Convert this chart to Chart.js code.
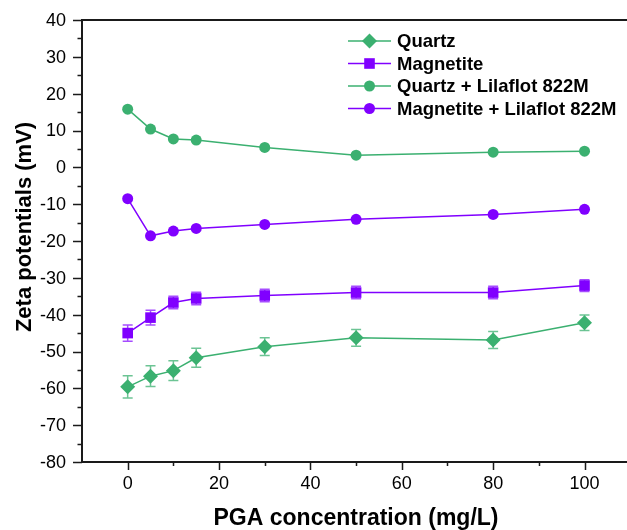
<!DOCTYPE html>
<html>
<head>
<meta charset="utf-8">
<script src="https://cdn.jsdelivr.net/npm/chart.js@4.4.0/dist/chart.umd.min.js"></script>
<style>
  html, body { margin: 0; padding: 0; background: #fff; overflow: hidden; }
  canvas { display: block; }
</style>
</head>
<body>
<canvas id="myChart" width="627" height="530"></canvas>
<script>
// Zeta potential vs PGA concentration

const concentrations = [0, 5, 10, 15, 30, 50, 80, 100];

const quartz = [-59.6, -56.7, -55.2, -51.7, -48.7, -46.3, -46.9, -42.2];
const quartzErr = [3.0, 2.8, 2.7, 2.6, 2.4, 2.3, 2.3, 2.1];

const magnetite = [-45.0, -40.8, -36.7, -35.6, -34.8, -34.0, -34.0, -32.1];
const magnetiteErr = [2.2, 2.0, 1.7, 1.7, 1.7, 1.7, 1.7, 1.6];

const quartzLilaflot = [15.8, 10.4, 7.7, 7.4, 5.4, 3.3, 4.1, 4.4];
const magnetiteLilaflot = [-8.5, -18.6, -17.3, -16.6, -15.5, -14.1, -12.8, -11.4];

const seriesNames = ["Quartz", "Magnetite", "Quartz + Lilaflot 822M", "Magnetite + Lilaflot 822M"];

const xTicks = [0, 20, 40, 60, 80, 100];
const yTicks = [-80, -70, -60, -50, -40, -30, -20, -10, 0, 10, 20, 30, 40];

const green = "#3bb070";
const purple = "#8000ff";
const fontFamily = "'Liberation Sans', Arial, sans-serif";

const toPoints = (ys) => ys.map((y, i) => ({ x: concentrations[i], y: y }));

// error bars, axes, tick labels, legend
const extras = {
  id: "extras",
  beforeDatasetsDraw(chart) {
    const ctx = chart.ctx;
    const xs = chart.scales.x;
    const ys = chart.scales.y;
    chart.data.datasets.forEach((ds) => {
      if (!ds.errors) return;
      ctx.save();
      ctx.strokeStyle = ds.errColor;
      ctx.lineWidth = 1.5;
      ds.data.forEach((p, i) => {
        const px = xs.getPixelForValue(p.x);
        const top = ys.getPixelForValue(p.y + ds.errors[i]);
        const bot = ys.getPixelForValue(p.y - ds.errors[i]);
        ctx.beginPath();
        ctx.moveTo(px, top);
        ctx.lineTo(px, bot);
        ctx.moveTo(px - 5, top);
        ctx.lineTo(px + 5, top);
        ctx.moveTo(px - 5, bot);
        ctx.lineTo(px + 5, bot);
        ctx.stroke();
      });
      ctx.restore();
    });
  },
  afterDraw(chart) {
    const ctx = chart.ctx;
    const area = chart.chartArea;
    const xs = chart.scales.x;
    const ys = chart.scales.y;
    ctx.save();
    ctx.strokeStyle = "#1a1a1a";
    ctx.lineWidth = 2;
    ctx.beginPath();
    ctx.moveTo(area.right, area.top);
    ctx.lineTo(area.left, area.top);
    ctx.lineTo(area.left, area.bottom);
    ctx.lineTo(area.right, area.bottom);
    ctx.stroke();

    // major + minor tick marks
    ctx.lineWidth = 1.5;
    ctx.beginPath();
    for (let v = -80; v <= 40; v += 5) {
      const py = Math.round(ys.getPixelForValue(v)) + 0.5;
      const len = v % 10 === 0 ? 9 : 4.5;
      ctx.moveTo(area.left, py);
      ctx.lineTo(area.left - len, py);
    }
    for (let v = 0; v <= 100; v += 10) {
      const px = Math.round(xs.getPixelForValue(v)) + 0.5;
      const len = v % 20 === 0 ? 8 : 4;
      ctx.moveTo(px, area.bottom);
      ctx.lineTo(px, area.bottom + len);
    }
    ctx.stroke();

    // tick labels
    ctx.fillStyle = "#000";
    ctx.font = "18px " + fontFamily;
    ctx.textBaseline = "middle";
    ctx.textAlign = "right";
    yTicks.forEach((v) => ctx.fillText(String(v), 66, ys.getPixelForValue(v) + 1));
    ctx.textAlign = "center";
    xTicks.forEach((v) => ctx.fillText(String(v), xs.getPixelForValue(v), 484));

    // axis titles
    ctx.font = "bold 23px " + fontFamily;
    ctx.fillText("PGA concentration (mg/L)", 356, 519);
    ctx.font = "bold 22px " + fontFamily;
    ctx.translate(25, 227);
    ctx.rotate(-Math.PI / 2);
    ctx.fillText("Zeta potentials (mV)", 0, 0);
    ctx.restore();

    // legend
    ctx.save();
    chart.data.datasets.forEach((ds, i) => {
      const y = 41 + i * 22.5;
      ctx.strokeStyle = ds.borderColor;
      ctx.lineWidth = 1.5;
      ctx.beginPath();
      ctx.moveTo(348, y);
      ctx.lineTo(391, y);
      ctx.stroke();
      ctx.fillStyle = ds.pointBackgroundColor;
      Chart.helpers.drawPoint(ctx, {
        pointStyle: ds.pointStyle,
        radius: ds.pointRadius,
        rotation: 0,
        borderWidth: 0,
      }, 369.5, y);
      ctx.fillStyle = "#000";
      ctx.font = "bold 18.5px " + fontFamily;
      ctx.textAlign = "left";
      ctx.textBaseline = "middle";
      ctx.fillText(ds.label, 397, y + 1);
    });
    ctx.restore();
  },
};

new Chart("myChart", {
  type: "line",
  data: {
    datasets: [
      {
        label: seriesNames[0],
        data: toPoints(quartz),
        errors: quartzErr,
        errColor: "rgba(59,176,112,0.75)",
        borderColor: green,
        pointBackgroundColor: green,
        pointStyle: "rectRot",
        pointRadius: 7.5,
      },
      {
        label: seriesNames[1],
        data: toPoints(magnetite),
        errors: magnetiteErr,
        errColor: "rgba(128,0,255,0.7)",
        borderColor: purple,
        pointBackgroundColor: purple,
        pointStyle: "rect",
        pointRadius: 7.5,
      },
      {
        label: seriesNames[2],
        data: toPoints(quartzLilaflot),
        borderColor: green,
        pointBackgroundColor: green,
        pointStyle: "circle",
        pointRadius: 5.5,
      },
      {
        label: seriesNames[3],
        data: toPoints(magnetiteLilaflot),
        borderColor: purple,
        pointBackgroundColor: purple,
        pointStyle: "circle",
        pointRadius: 5.5,
      },
    ],
  },
  options: {
    responsive: false,
    animation: false,
    datasets: {
      line: { borderWidth: 1.5, pointBorderWidth: 0, tension: 0, clip: false },
    },
    layout: { autoPadding: false, padding: { top: 20, right: 0, left: 0, bottom: 0 } },
    plugins: { legend: { display: false }, tooltip: { enabled: false } },
    scales: {
      x: {
        type: "linear",
        min: -10,
        max: 109.3,
        afterBuildTicks: (scale) => { scale.ticks = xTicks.map((v) => ({ value: v })); },
        afterFit: (scale) => { scale.height = 68; },
        grid: { display: false, drawTicks: false },
        border: { display: false },
        ticks: { display: false },
      },
      y: {
        min: -80,
        max: 40,
        afterBuildTicks: (scale) => { scale.ticks = yTicks.map((v) => ({ value: v })); },
        afterFit: (scale) => { scale.width = 82; },
        grid: { display: false, drawTicks: false },
        border: { display: false },
        ticks: { display: false },
      },
    },
  },
  plugins: [extras],
});
</script>
</body>
</html>
